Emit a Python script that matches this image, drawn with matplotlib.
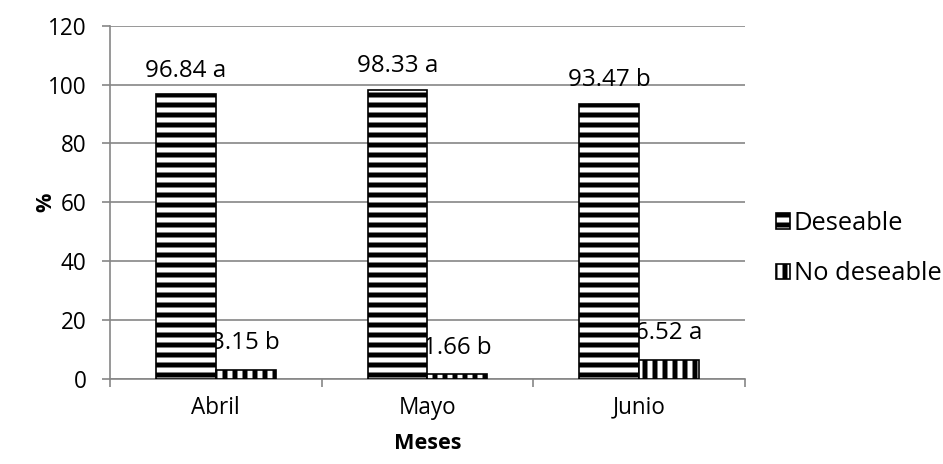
import matplotlib
matplotlib.use("Agg")
import matplotlib.pyplot as plt
import numpy as np

# values per month
meses = ["Abril", "Mayo", "Junio"]
deseable = [96.84, 98.33, 93.47]
no_deseable = [3.15, 1.66, 6.52]
letras_des = ["a", "a", "b"]
letras_no = ["b", "b", "a"]

DPI = 120
plt.rcParams['font.family'] = ['Open Sans', 'DejaVu Sans']
plt.rcParams['hatch.linewidth'] = 3.0

fig = plt.figure(figsize=(943 / DPI, 464 / DPI), dpi=DPI)
ax = fig.add_axes([0.1166, 0.183, 0.790 - 0.1166, 0.9446 - 0.183])

x = np.arange(len(meses))
w = 0.283
b1 = ax.bar(x - w / 2, deseable, w, color="white", edgecolor="black",
            hatch="--", linewidth=1.0, zorder=3, label="Deseable")
b2 = ax.bar(x + w / 2, no_deseable, w, color="white", edgecolor="black",
            hatch="||", linewidth=1.0, zorder=3, label="No deseable")

# value labels sit behind the bars
for xi, v, l in zip(x - w / 2, deseable, letras_des):
    ax.annotate(f"{v:.2f} {l}", (xi, v), xytext=(0, 14), textcoords="offset points",
                ha="center", va="center", fontsize=14.5, zorder=1.5)
for xi, v, l in zip(x + w / 2, no_deseable, letras_no):
    ax.annotate(f"{v:.2f} {l}", (xi, v), xytext=(0, 16), textcoords="offset points",
                ha="center", va="center", fontsize=14.5, zorder=1.5)

ax.set_xlim(-0.5, 2.5)
ax.set_ylim(0, 120)
ax.set_yticks(np.arange(0, 121, 20))
ax.set_xticks([-0.5, 0.5, 1.5, 2.5])
ax.set_xticklabels([])
ax.set_xticks(x, minor=True)
ax.set_xticklabels(meses, minor=True)
ax.tick_params(axis="x", which="minor", length=0, pad=10, labelsize=13.5)
ax.tick_params(axis="x", which="major", length=5, color="#868686", width=1)
ax.tick_params(axis="y", length=5, color="#868686", width=1, labelsize=13.5, pad=9)

ax.grid(axis="y", color="#868686", linewidth=1)
ax.set_axisbelow(True)
for s in ["top", "right"]:
    ax.spines[s].set_visible(False)
for s in ["left", "bottom"]:
    ax.spines[s].set_color("#868686")
    ax.spines[s].set_linewidth(1)

fig.text(46 / 943, 1 - 202 / 464, "%", rotation=90, ha="center", va="center",
         fontsize=13, fontweight="bold")
ax.set_xlabel("Meses", fontsize=13, fontweight="bold", labelpad=8)

fig.legend(handles=[b1, b2], loc="center left", bbox_to_anchor=(0.823, 0.464),
           frameon=False, fontsize=15.3, handlelength=0.55, handleheight=0.55,
           handletextpad=0.15, labelspacing=1.0, borderaxespad=0, borderpad=0)

fig.savefig("out.png", dpi=DPI)
